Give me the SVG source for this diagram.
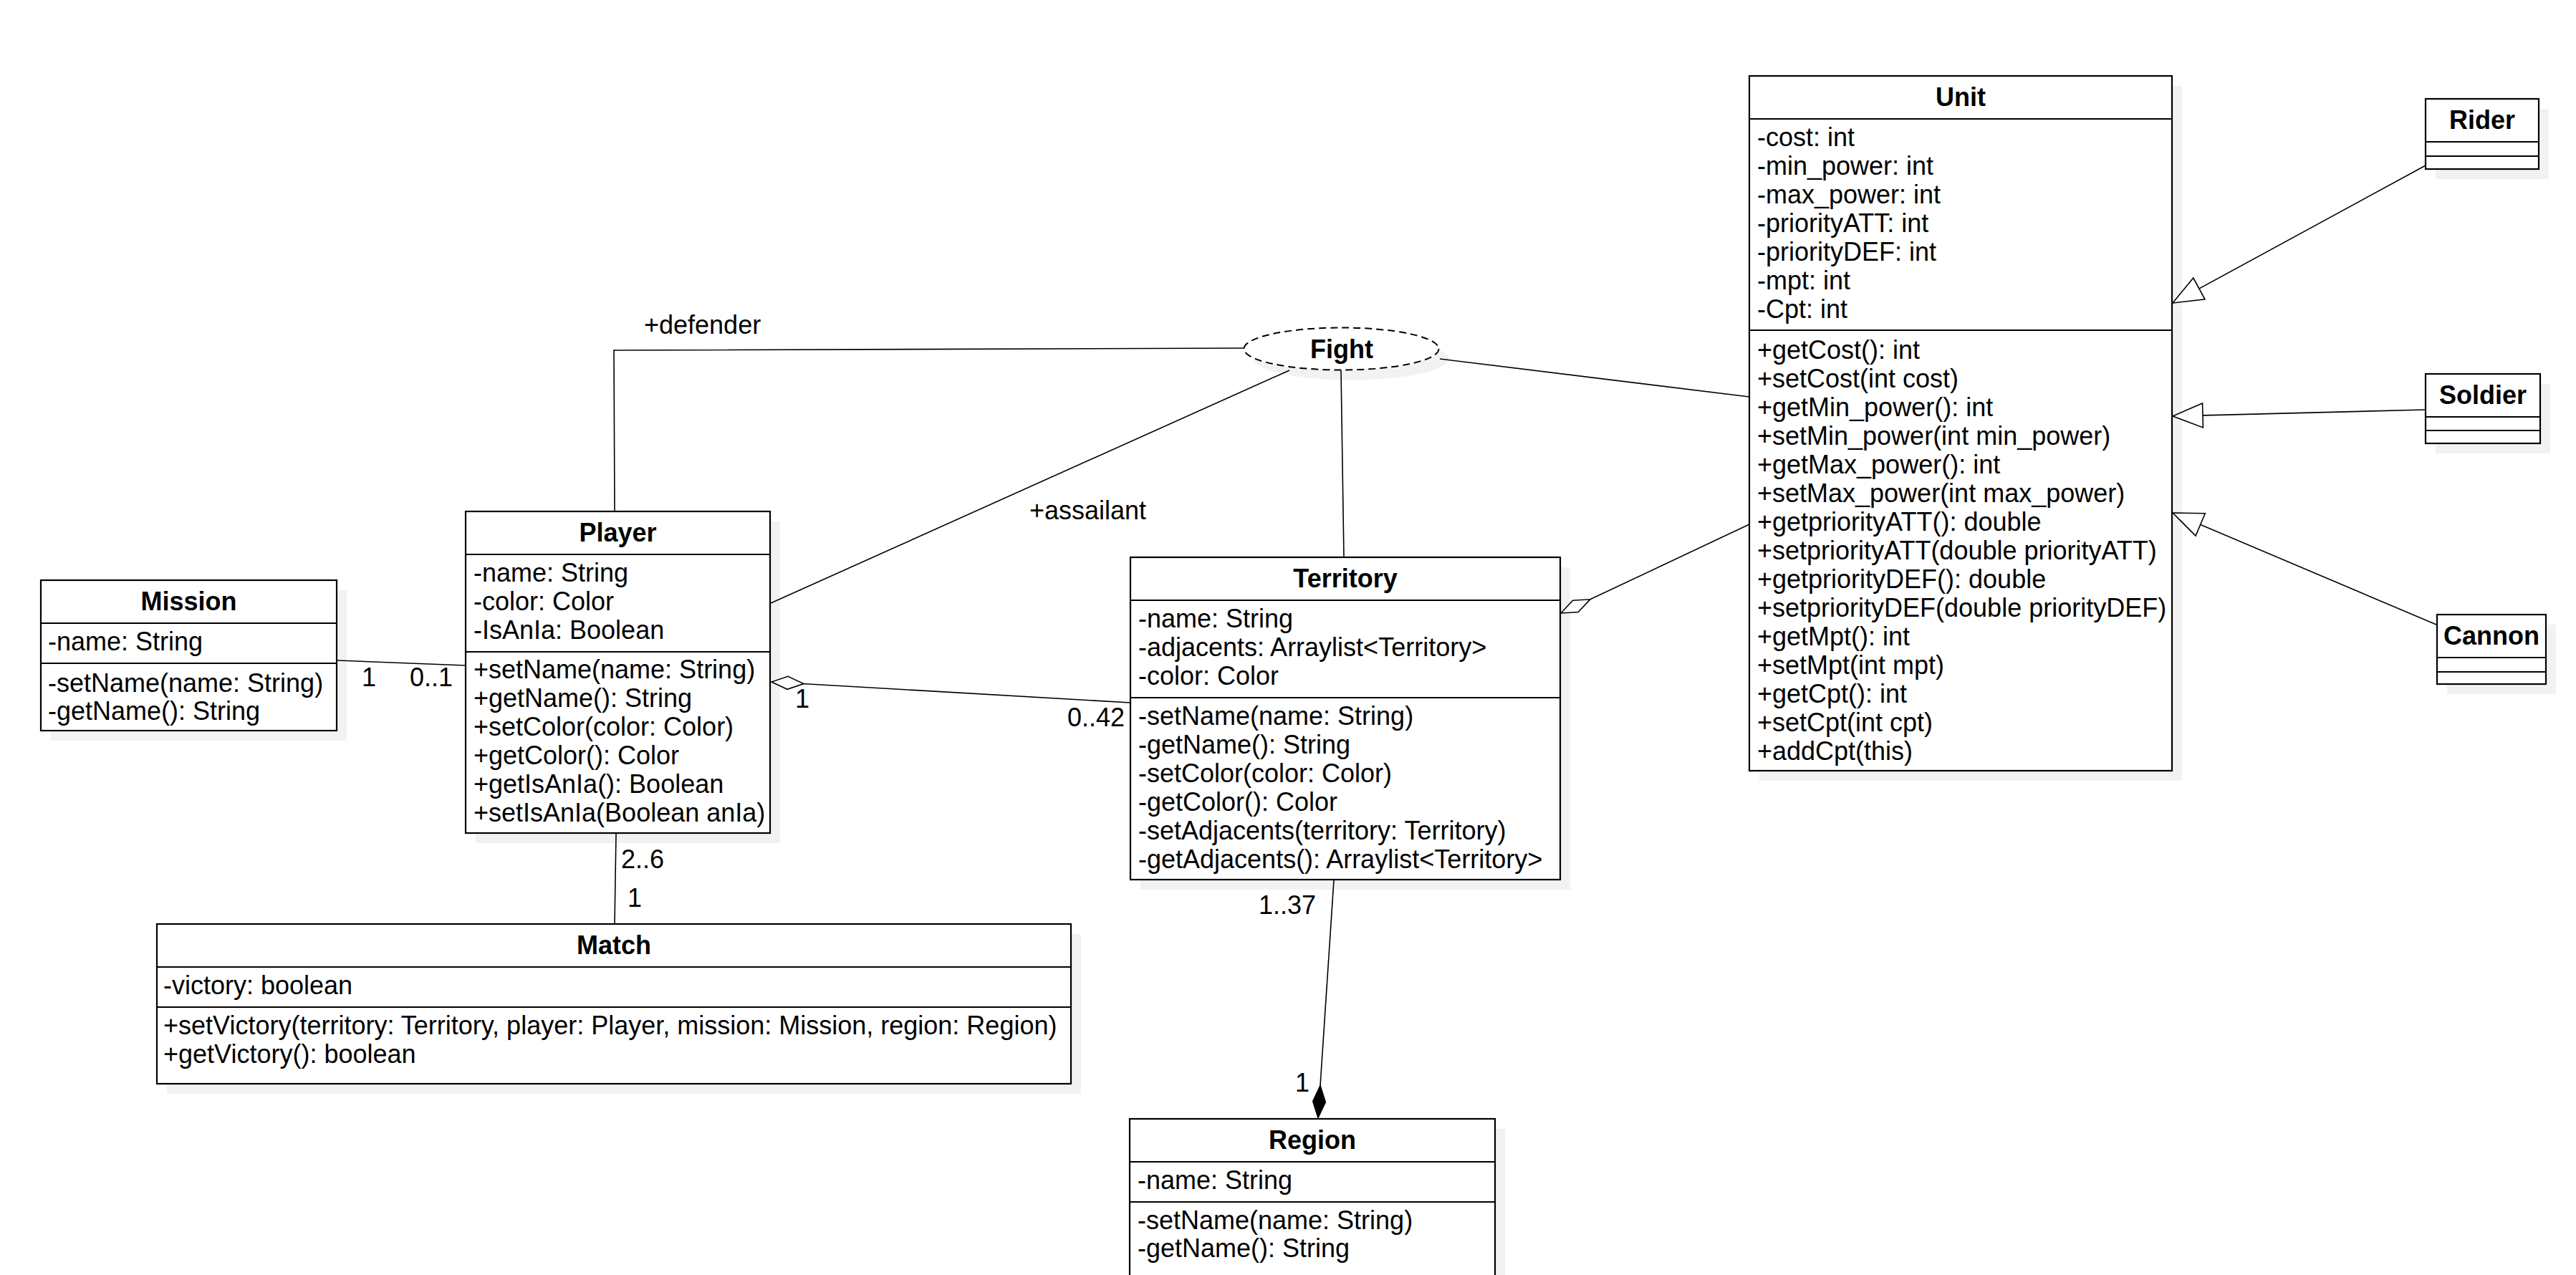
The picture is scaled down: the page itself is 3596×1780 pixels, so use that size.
<svg xmlns="http://www.w3.org/2000/svg" width="3596" height="1780" viewBox="0 0 3596 1780">
  <style>
    .shadow { fill: #f2f2f2; stroke: none; }
    .box { fill: #ffffff; stroke: #000000; stroke-width: 2.2; }
    .sep { stroke: #000000; stroke-width: 2.2; }
    .t { font-family: "Liberation Sans", Arial, Helvetica, sans-serif; font-size: 36px; fill: #000000; }
    .title { font-weight: bold; text-anchor: middle; }
    .conn { fill: none; stroke: #000000; stroke-width: 1.6; }
    .fight { fill: #ffffff; stroke: #000000; stroke-width: 2; stroke-dasharray: 10 6; }
  </style>
  <defs>
    <!-- generalization: hollow triangle -->
    <marker id="inherit" markerUnits="userSpaceOnUse" orient="auto" viewBox="-46 -20 50 40" refX="0" refY="0" markerWidth="50" markerHeight="40">
      <path d="M0,0 L-42,-17 L-42,17 Z" fill="#ffffff" stroke="#000000" stroke-width="1.6"/>
    </marker>
    <!-- aggregation: hollow diamond -->
    <marker id="aggr" markerUnits="userSpaceOnUse" orient="auto" viewBox="-48 -12 52 24" refX="0" refY="0" markerWidth="52" markerHeight="24">
      <path d="M0,0 L-22.5,-9 L-45,0 L-22.5,9 Z" fill="#ffffff" stroke="#000000" stroke-width="1.6"/>
    </marker>
    <!-- composition: filled diamond -->
    <marker id="comp" markerUnits="userSpaceOnUse" orient="auto" viewBox="-50 -12 54 24" refX="0" refY="0" markerWidth="54" markerHeight="24">
      <path d="M0,0 L-23,-9 L-46,0 L-23,9 Z" fill="#000000" stroke="#000000" stroke-width="1.2"/>
    </marker>
  </defs>

  <rect x="0" y="0" width="3596" height="1780" fill="#ffffff"/>

  <!-- Fight (association class) -->
  <g id="fight">
    <ellipse class="shadow" cx="1886" cy="501" rx="136" ry="29.5"/>
    <ellipse class="fight" cx="1872.5" cy="487" rx="136" ry="29.5"/>
    <text class="t title" x="1873" y="500">Fight</text>
  </g>

  <!-- Mission -->
  <g id="mission">
    <rect class="shadow" x="71" y="824" width="413" height="210"/>
    <rect class="box" x="57" y="810" width="413" height="210"/>
    <line class="sep" x1="57" y1="870" x2="470" y2="870"/>
    <line class="sep" x1="57" y1="926" x2="470" y2="926"/>
    <text class="t title" x="263.5" y="852">Mission</text>
    <text class="t" x="67" y="908">-name: String</text>
    <text class="t" x="67" y="966">-setName(name: String)</text>
    <text class="t" x="67" y="1005">-getName(): String</text>
  </g>

  <!-- Player -->
  <g id="player">
    <rect class="shadow" x="664" y="728" width="425" height="449"/>
    <rect class="box" x="650" y="714" width="425" height="449"/>
    <line class="sep" x1="650" y1="774" x2="1075" y2="774"/>
    <line class="sep" x1="650" y1="910" x2="1075" y2="910"/>
    <text class="t title" x="862.5" y="756">Player</text>
    <text class="t" x="661" y="812">-name: String</text>
    <text class="t" x="661" y="852">-color: Color</text>
    <text class="t" x="661" y="892">-IsAnIa: Boolean</text>
    <text class="t" x="661" y="947">+setName(name: String)</text>
    <text class="t" x="661" y="987">+getName(): String</text>
    <text class="t" x="661" y="1027">+setColor(color: Color)</text>
    <text class="t" x="661" y="1067">+getColor(): Color</text>
    <text class="t" x="661" y="1107">+getIsAnIa(): Boolean</text>
    <text class="t" x="661" y="1147">+setIsAnIa(Boolean anIa)</text>
  </g>

  <!-- Match -->
  <g id="match">
    <rect class="shadow" x="233" y="1304" width="1276" height="223"/>
    <rect class="box" x="219" y="1290" width="1276" height="223"/>
    <line class="sep" x1="219" y1="1350" x2="1495" y2="1350"/>
    <line class="sep" x1="219" y1="1406" x2="1495" y2="1406"/>
    <text class="t title" x="857" y="1332">Match</text>
    <text class="t" x="228" y="1388">-victory: boolean</text>
    <text class="t" x="228" y="1444">+setVictory(territory: Territory, player: Player, mission: Mission, region: Region)</text>
    <text class="t" x="228" y="1484">+getVictory(): boolean</text>
  </g>

  <!-- Territory -->
  <g id="territory">
    <rect class="shadow" x="1592" y="792" width="600" height="450"/>
    <rect class="box" x="1578" y="778" width="600" height="450"/>
    <line class="sep" x1="1578" y1="838" x2="2178" y2="838"/>
    <line class="sep" x1="1578" y1="974" x2="2178" y2="974"/>
    <text class="t title" x="1878" y="820">Territory</text>
    <text class="t" x="1589" y="876">-name: String</text>
    <text class="t" x="1589" y="916">-adjacents: Arraylist&lt;Territory&gt;</text>
    <text class="t" x="1589" y="956">-color: Color</text>
    <text class="t" x="1589" y="1012">-setName(name: String)</text>
    <text class="t" x="1589" y="1052">-getName(): String</text>
    <text class="t" x="1589" y="1092">-setColor(color: Color)</text>
    <text class="t" x="1589" y="1132">-getColor(): Color</text>
    <text class="t" x="1589" y="1172">-setAdjacents(territory: Territory)</text>
    <text class="t" x="1589" y="1212">-getAdjacents(): Arraylist&lt;Territory&gt;</text>
  </g>

  <!-- Region -->
  <g id="region">
    <rect class="shadow" x="1591" y="1576" width="510" height="260"/>
    <rect class="box" x="1577" y="1562" width="510" height="260"/>
    <line class="sep" x1="1577" y1="1622" x2="2087" y2="1622"/>
    <line class="sep" x1="1577" y1="1678" x2="2087" y2="1678"/>
    <text class="t title" x="1832" y="1604">Region</text>
    <text class="t" x="1588" y="1660">-name: String</text>
    <text class="t" x="1588" y="1716">-setName(name: String)</text>
    <text class="t" x="1588" y="1755">-getName(): String</text>
  </g>

  <!-- Unit -->
  <g id="unit">
    <rect class="shadow" x="2456" y="120" width="590" height="970"/>
    <rect class="box" x="2442" y="106" width="590" height="970"/>
    <line class="sep" x1="2442" y1="166" x2="3032" y2="166"/>
    <line class="sep" x1="2442" y1="461" x2="3032" y2="461"/>
    <text class="t title" x="2737" y="148">Unit</text>
    <text class="t" x="2453" y="204">-cost: int</text>
    <text class="t" x="2453" y="244">-min_power: int</text>
    <text class="t" x="2453" y="284">-max_power: int</text>
    <text class="t" x="2453" y="324">-priorityATT: int</text>
    <text class="t" x="2453" y="364">-priorityDEF: int</text>
    <text class="t" x="2453" y="404">-mpt: int</text>
    <text class="t" x="2453" y="444">-Cpt: int</text>
    <text class="t" x="2453" y="501">+getCost(): int</text>
    <text class="t" x="2453" y="541">+setCost(int cost)</text>
    <text class="t" x="2453" y="581">+getMin_power(): int</text>
    <text class="t" x="2453" y="621">+setMin_power(int min_power)</text>
    <text class="t" x="2453" y="661">+getMax_power(): int</text>
    <text class="t" x="2453" y="701">+setMax_power(int max_power)</text>
    <text class="t" x="2453" y="741">+getpriorityATT(): double</text>
    <text class="t" x="2453" y="781">+setpriorityATT(double priorityATT)</text>
    <text class="t" x="2453" y="821">+getpriorityDEF(): double</text>
    <text class="t" x="2453" y="861">+setpriorityDEF(double priorityDEF)</text>
    <text class="t" x="2453" y="901">+getMpt(): int</text>
    <text class="t" x="2453" y="941">+setMpt(int mpt)</text>
    <text class="t" x="2453" y="981">+getCpt(): int</text>
    <text class="t" x="2453" y="1021">+setCpt(int cpt)</text>
    <text class="t" x="2453" y="1061">+addCpt(this)</text>
  </g>

  <!-- Rider -->
  <g id="rider">
    <rect class="shadow" x="3400" y="152" width="158" height="98"/>
    <rect class="box" x="3386" y="138" width="158" height="98"/>
    <line class="sep" x1="3386" y1="198" x2="3544" y2="198"/>
    <line class="sep" x1="3386" y1="218" x2="3544" y2="218"/>
    <text class="t title" x="3465" y="180">Rider</text>
  </g>

  <!-- Soldier -->
  <g id="soldier">
    <rect class="shadow" x="3400" y="536" width="160" height="97"/>
    <rect class="box" x="3386" y="522" width="160" height="97"/>
    <line class="sep" x1="3386" y1="582" x2="3546" y2="582"/>
    <line class="sep" x1="3386" y1="601" x2="3546" y2="601"/>
    <text class="t title" x="3466" y="564">Soldier</text>
  </g>

  <!-- Cannon -->
  <g id="cannon">
    <rect class="shadow" x="3416" y="872" width="152" height="97"/>
    <rect class="box" x="3402" y="858" width="152" height="97"/>
    <line class="sep" x1="3402" y1="918" x2="3554" y2="918"/>
    <line class="sep" x1="3402" y1="938" x2="3554" y2="938"/>
    <text class="t title" x="3478" y="900">Cannon</text>
  </g>

  <!-- connectors, drawn over the node shadows -->
  <g id="connectors">
    <line class="conn" x1="471" y1="922" x2="650" y2="929"/>
    <line class="conn" x1="860" y1="1164" x2="858" y2="1290"/>
    <polyline class="conn" points="858,714 857,489 1737,486"/>
    <line class="conn" x1="1076" y1="842" x2="1800" y2="517"/>
    <line class="conn" x1="1872" y1="517" x2="1876" y2="778"/>
    <line class="conn" x1="2010" y1="501" x2="2442" y2="554"/>
    <line class="conn" x1="1578" y1="981" x2="1077" y2="952" marker-end="url(#aggr)"/>
    <line class="conn" x1="2442" y1="732" x2="2179" y2="856" marker-end="url(#aggr)"/>
    <line class="conn" x1="1862" y1="1229" x2="1840" y2="1561" marker-end="url(#comp)"/>
    <line class="conn" x1="3386" y1="231" x2="3033" y2="423" marker-end="url(#inherit)"/>
    <line class="conn" x1="3386" y1="572" x2="3033" y2="581" marker-end="url(#inherit)"/>
    <line class="conn" x1="3401" y1="872" x2="3033" y2="716" marker-end="url(#inherit)"/>

    <text class="t" x="899" y="466">+defender</text>
    <text class="t" x="1437" y="725">+assailant</text>
    <text class="t" x="505" y="958">1</text>
    <text class="t" x="572" y="958">0..1</text>
    <text class="t" x="1110" y="988">1</text>
    <text class="t" x="1490" y="1014">0..42</text>
    <text class="t" x="867" y="1212">2..6</text>
    <text class="t" x="876" y="1266">1</text>
    <text class="t" x="1757" y="1276">1..37</text>
    <text class="t" x="1808" y="1524">1</text>
  </g>
</svg>
